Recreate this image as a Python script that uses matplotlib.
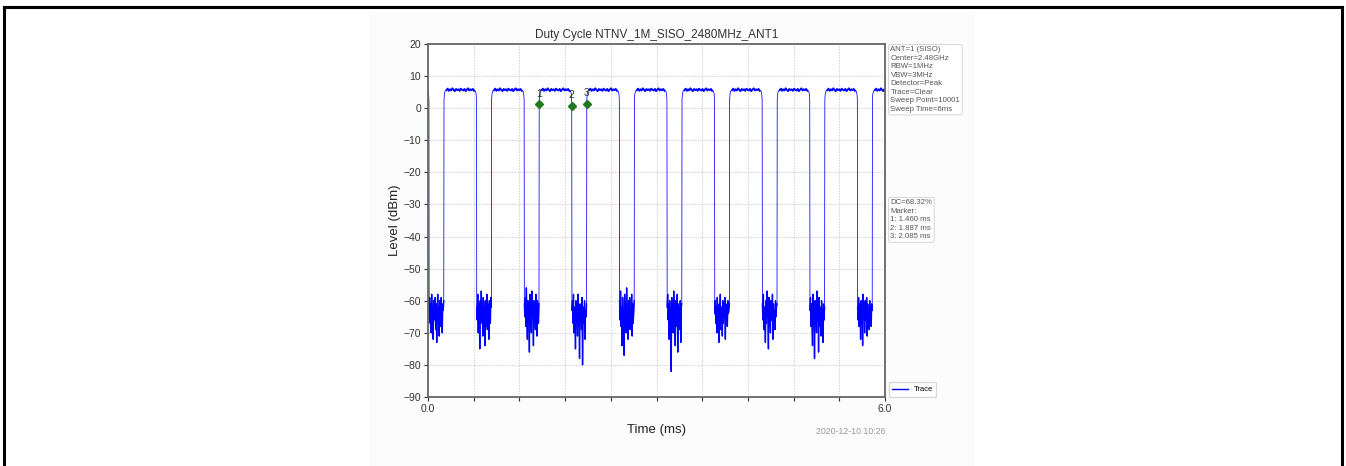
import numpy as np
import matplotlib
matplotlib.use("Agg")
import matplotlib.pyplot as plt
from matplotlib.patches import Rectangle
from matplotlib.lines import Line2D

plt.rcParams['font.family'] = ['Liberation Sans', 'DejaVu Sans']

# ---------------------------------------------------------
# DATA
# ---------------------------------------------------------
title = "Duty Cycle NTNV_1M_SISO_2480MHz_ANT1"

# burst edges in ms
rise_ms = [0.210, 0.835, 1.460, 2.085, 2.710, 3.335, 3.960, 4.585, 5.210, 5.835]
fall_ms = [0.012, 0.637, 1.262, 1.887, 2.512, 3.137, 3.762, 4.387, 5.012, 5.637]
on_ms = 0.427

# rounded corner of each edge (offset from edge in ms, level in dBm)
edge_dt = [0.0, 0.005, 0.014, 0.032]
edge_lvl = [2.5, 4.4, 5.3, 5.7]

# ripple on the top of the bursts (dBm)
on_ripple = [5.6, 6.1, 5.4, 5.9, 5.5, 6.2, 5.7, 5.3, 6.0, 5.6, 5.9, 5.4,
             6.1, 5.7, 5.5, 6.0, 5.3, 5.8, 6.2, 5.5, 5.9, 5.6, 6.0, 5.4]

# noise floor between the bursts, one list per gap (dBm)
gap_noise = [
    [-63, -59, -67, -61, -70, -58, -65, -62, -72, -60, -66, -64, -59, -69, -61,
     -73, -63, -58, -66, -62, -71, -60, -65, -68, -59, -64, -70, -61, -63, -60],
    [-62, -66, -58, -70, -61, -64, -75, -60, -67, -57, -65, -63, -71, -59, -66,
     -62, -74, -60, -68, -64, -58, -69, -61, -65, -72, -60, -63, -67, -59, -62],
    [-61, -65, -59, -68, -56, -64, -72, -60, -66, -62, -76, -58, -67, -63, -70,
     -57, -65, -61, -74, -60, -66, -63, -69, -58, -64, -71, -60, -62, -67, -61],
    [-63, -60, -67, -58, -70, -62, -65, -75, -60, -66, -64, -71, -58, -68, -62,
     -78, -61, -66, -63, -69, -59, -80, -64, -62, -67, -60, -72, -63, -65, -61],
    [-60, -66, -57, -68, -62, -74, -59, -65, -63, -77, -58, -67, -61, -70, -56,
     -64, -62, -72, -60, -66, -59, -69, -63, -65, -58, -71, -61, -67, -64, -60],
    [-62, -58, -66, -61, -72, -60, -65, -63, -82, -59, -67, -64, -70, -57, -66,
     -62, -74, -60, -68, -63, -58, -76, -61, -65, -64, -69, -60, -73, -62, -61],
    [-64, -60, -67, -62, -70, -59, -65, -63, -73, -61, -66, -58, -69, -62, -64,
     -71, -60, -67, -63, -65, -59, -72, -61, -66, -62, -68, -60, -64, -63, -61],
    [-61, -66, -58, -69, -62, -64, -73, -60, -67, -57, -65, -63, -75, -59, -68,
     -62, -70, -60, -66, -64, -58, -72, -61, -67, -63, -69, -60, -65, -62, -61],
    [-63, -59, -68, -61, -66, -74, -58, -65, -62, -78, -60, -67, -63, -70, -57,
     -66, -61, -76, -59, -64, -68, -62, -71, -60, -65, -63, -73, -61, -66, -62],
    [-62, -66, -59, -68, -61, -64, -72, -60, -67, -63, -74, -58, -65, -62, -70,
     -60, -66, -64, -59, -71, -61, -67, -63, -69, -60, -65, -62, -68, -61, -63],
]

# markers
marker_ms = [1.460, 1.887, 2.085]
marker_lvl = [1.2, 0.8, 1.3]
marker_lbl = ["1", "2", "3"]

setup_info = ["ANT=1 (SISO)", "Center=2.48GHz", "RBW=1MHz", "VBW=3MHz",
              "Detector=Peak", "Trace=Clear", "Sweep Point=10001", "Sweep Time=6ms"]
dc_info = ["DC=68.32%", "Marker:", "1: 1.460 ms", "2: 1.887 ms", "3: 2.085 ms"]
stamp = "2020-12-10 10:26"

# ---------------------------------------------------------
# BUILD TRACE
# ---------------------------------------------------------
t, y = [], []
noise_segs, top_segs = [], []

def add_top(start, stop):
    tt = np.linspace(start, stop, len(on_ripple))
    t.extend(tt)
    y.extend(on_ripple)
    top_segs.append((tt, on_ripple))

def add_fall(f):
    for dt, lv in zip(edge_dt[::-1], edge_lvl[::-1]):
        t.append(f - dt)
        y.append(lv)

def add_rise(r):
    for dt, lv in zip(edge_dt, edge_lvl):
        t.append(r + dt)
        y.append(lv)

add_top(fall_ms[0] - on_ms + edge_dt[-1], fall_ms[0] - edge_dt[-1])
for g in range(len(rise_ms)):
    add_fall(fall_ms[g])
    tt = np.linspace(fall_ms[g] + 0.003, rise_ms[g] - 0.003, len(gap_noise[g]))
    t.extend(tt)
    y.extend(gap_noise[g])
    noise_segs.append((tt, gap_noise[g]))
    add_rise(rise_ms[g])
    nxt = fall_ms[g + 1] if g + 1 < len(fall_ms) else rise_ms[g] + on_ms
    add_top(rise_ms[g] + edge_dt[-1], nxt - edge_dt[-1])
    if g + 1 == len(rise_ms):
        add_fall(nxt)

# ---------------------------------------------------------
# PLOT
# ---------------------------------------------------------
fig = plt.figure(figsize=(13.46, 4.66), dpi=100)

# faint backdrop of the embedded picture + page frame
fig.add_artist(Rectangle((369 / 1346, 0), 606 / 1346, 1 - 12 / 466,
                         transform=fig.transFigure, fc='#fcfcfc', ec='none', zorder=0))
fig.add_artist(Line2D([4 / 1346, 4 / 1346], [0, 1 - 7 / 466], transform=fig.transFigure,
                      color='black', lw=2.2))
fig.add_artist(Line2D([4 / 1346, 1342 / 1346], [1 - 7 / 466, 1 - 7 / 466],
                      transform=fig.transFigure, color='black', lw=2.2))
fig.add_artist(Line2D([1342 / 1346, 1342 / 1346], [0, 1 - 7 / 466],
                      transform=fig.transFigure, color='black', lw=2.2))

ax = fig.add_axes([428 / 1346, 1 - 397 / 466, 457 / 1346, 353 / 466])
ax.plot(t, y, color='blue', lw=0.55)
# the dense parts of the sweep look heavier
for tt, vv in noise_segs:
    ax.plot(tt, vv, color='blue', lw=1.0)
for tt, vv in top_segs:
    ax.plot(tt, vv, color='blue', lw=1.3)

ax.plot(marker_ms, marker_lvl, 'D', color='#1f7a1f', ms=4.5, ls='none')
for mx, my, ml in zip(marker_ms, marker_lvl, marker_lbl):
    ax.text(mx, my + 1.8, ml, ha='center', va='bottom', fontsize=7.5, color='#333333')

ax.set_xlim(0, 6)
ax.set_ylim(-90, 20)
ax.set_xticks(np.arange(0, 6.01, 0.6))
ax.set_xticklabels(['0.0'] + [''] * 9 + ['6.0'])
ax.set_yticks(np.arange(-90, 21, 10))
ax.tick_params(labelsize=7.5, colors='#333333', length=3, width=0.8, pad=2)
ax.grid(True, color='#bbbbbb', ls=(0, (2, 2)), lw=0.5)
for s in ax.spines.values():
    s.set_color('#666666')
    s.set_linewidth(1.3)

ax.set_title(title, fontsize=8.5, color='#333333', pad=4)
ax.set_xlabel("Time (ms)", fontsize=9.5, color='#222222', labelpad=7)
ax.set_ylabel("Level (dBm)", fontsize=9.5, color='#222222', labelpad=2)

box = dict(boxstyle='round,pad=0.25', fc='white', ec='#d0d0d0', lw=0.6)
ax.text(1.012, 0.993, "\n".join(setup_info), transform=ax.transAxes, va='top', ha='left',
        fontsize=5.6, color='#555555', linespacing=1.3, bbox=box)
ax.text(1.012, 0.560, "\n".join(dc_info), transform=ax.transAxes, va='top', ha='left',
        fontsize=5.6, color='#555555', linespacing=1.3, bbox=box)

handle = Line2D([], [], color='blue', lw=1.0)
ax.legend([handle], ['Trace'], loc='lower left', bbox_to_anchor=(1.0, -0.01), fontsize=5.5,
          frameon=True, edgecolor='#d0d0d0', handlelength=2.0, borderpad=0.45, fancybox=True)

fig.text(885 / 1346, 1 - 431 / 466, stamp, ha='right', va='center', fontsize=6.3, color='#999999')

fig.savefig("out.png", dpi=100)
